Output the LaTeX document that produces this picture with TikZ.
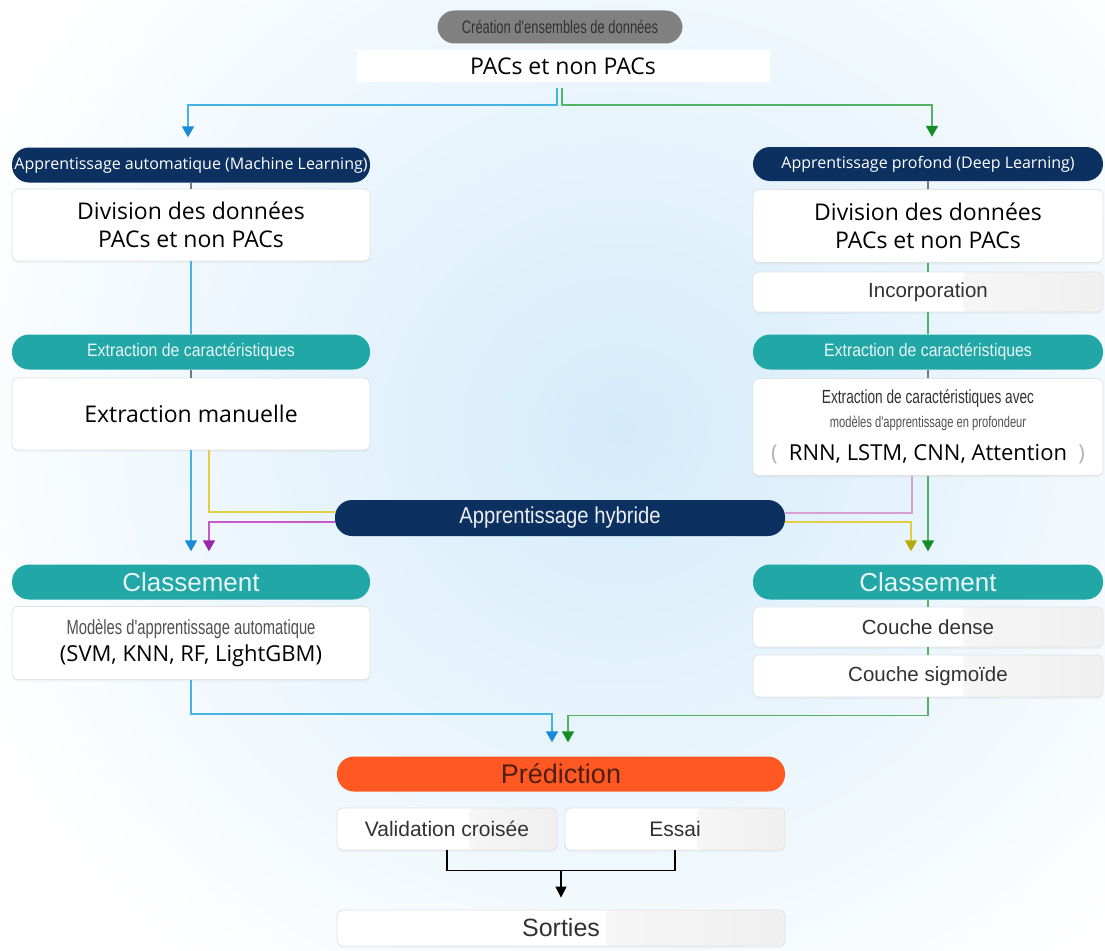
\documentclass[tikz,border=0pt]{standalone}
\usepackage{fontspec}
\usetikzlibrary{arrows.meta,calc,shadows}
\newfontfamily\os{Open Sans}
\newfontfamily\ar{Liberation Sans}
\newfontfamily\arn[FakeStretch=0.8]{Liberation Sans}
\newfontfamily\arm[FakeStretch=0.88]{Liberation Sans}
\newfontfamily\arx[FakeStretch=0.72]{Liberation Sans}
\definecolor{navy}{RGB}{12,48,96}
\definecolor{teal2}{RGB}{32,167,166}
\definecolor{orng}{RGB}{255,88,34}
\definecolor{grayp}{RGB}{128,128,128}
\definecolor{boxline}{RGB}{226,226,226}
\definecolor{glow}{RGB}{212,235,250}
\definecolor{lblue}{RGB}{70,180,225}
\definecolor{dblue}{RGB}{25,140,215}
\definecolor{lgreen}{RGB}{80,180,100}
\definecolor{dgreen}{RGB}{20,140,40}
\definecolor{yel}{RGB}{225,205,70}
\definecolor{olive2}{RGB}{180,170,10}
\definecolor{mag}{RGB}{200,90,200}
\definecolor{purp}{RGB}{150,40,170}
\definecolor{pinkl}{RGB}{215,160,210}
\definecolor{tickg}{RGB}{120,120,120}
\definecolor{txt}{RGB}{50,50,50}
\begin{document}
\begin{tikzpicture}[x=1pt,y=-1pt,
  pill/.style={rectangle, rounded corners=17pt, inner sep=0pt, align=center},
  navypill/.style={pill, fill=navy, text=white, font=\os\fontsize{16}{19}\selectfont},
  tealpill/.style={pill, fill=teal2, text=white!90!teal2},
  box/.style={rectangle, rounded corners=6pt, draw=boxline, line width=0.8pt, fill=white,
    inner sep=0pt, align=center, text=txt,
    drop shadow={opacity=0.07, shadow xshift=0pt, shadow yshift=-2pt}},
  grad/.style={path picture={\shade[left color=white, right color=gray!12]
    ($(path picture bounding box.north west)!0.6!(path picture bounding box.north east)$)
    rectangle (path picture bounding box.south east);}},
  big/.style={font=\os\fontsize{23}{28}\selectfont, text=black},
  arial/.style={font=\ar\fontsize{20.5}{24}\selectfont},
  tickline/.style={draw=tickg, line width=1.2pt},
  conB/.style={draw=lblue, line width=1.6pt},
  conG/.style={draw=lgreen, line width=1.6pt},
  conY/.style={draw=yel, line width=1.6pt},
  conM/.style={draw=mag, line width=1.6pt},
  conP/.style={draw=pinkl, line width=1.6pt},
  tipB/.style={-{Triangle[width=12pt,length=11pt,color=dblue]}},
  tipG/.style={-{Triangle[width=12pt,length=11pt,color=dgreen]}},
  tipY/.style={-{Triangle[width=12pt,length=11pt,color=olive2]}},
  tipM/.style={-{Triangle[width=12pt,length=11pt,color=purp]}},
  tipK/.style={-{Triangle[width=11pt,length=11pt,color=black]}}
]
\useasboundingbox (0,0) rectangle (1105,950);
\begin{scope}
  \clip (0,0) rectangle (1105,950);
  \fill[white] (0,0) rectangle (1105,950);
  \shade[inner color=glow, outer color=white] (620,430) ellipse (700 and 680);
\end{scope}

% top
\node[pill, fill=grayp, minimum width=245pt, minimum height=33pt, text=txt,
  font=\arx\fontsize{18}{21}\selectfont] (top) at (560,27) {Création d'ensembles de données};
\node[rectangle, fill=white, minimum width=413pt, minimum height=32pt, inner sep=0pt, big] (pac) at (563,66) {PACs et non PACs};

% left column
\node[navypill, minimum width=358pt, minimum height=35pt] (mlpill) at (191,165) {Apprentissage automatique (Machine Learning)};
\node[box, big, minimum width=358pt, minimum height=72pt] (ldiv) at (191,225) {Division des données\\PACs et non PACs};
\node[tealpill, minimum width=358pt, minimum height=35pt, font=\arm\fontsize{18}{21}\selectfont] (lext) at (191,352) {Extraction de caractéristiques};
\node[box, big, minimum width=358pt, minimum height=72pt] (lman) at (191,414) {Extraction manuelle};
\node[tealpill, minimum width=358pt, minimum height=35pt, font=\ar\fontsize{26}{30}\selectfont] (lcls) at (191,582) {Classement};
\node[box, minimum width=358pt, minimum height=73pt, font=\fontsize{10}{27}\selectfont] (lmod) at (191,643)
  {{\arx\fontsize{20.5}{24}\selectfont\color{txt!85!white}Modèles d'apprentissage automatique}\\
   {\os\fontsize{22}{26}\selectfont\color{black}(SVM, KNN, RF, LightGBM)}};

% right column
\node[navypill, minimum width=350pt, minimum height=34pt] (dlpill) at (928,164) {Apprentissage profond (Deep Learning)};
\node[box, big, minimum width=350pt, minimum height=73pt] (rdiv) at (928,226) {Division des données\\PACs et non PACs};
\node[box, grad, arial, minimum width=350pt, minimum height=40pt] (rinc) at (928,292) {Incorporation};
\node[tealpill, minimum width=350pt, minimum height=35pt, font=\arm\fontsize{18}{21}\selectfont] (rext) at (928,352) {Extraction de caractéristiques};
\node[box, minimum width=350pt, minimum height=97pt, font=\fontsize{10}{24}\selectfont] (rfe) at (928,427)
  {{\arx\fontsize{19}{22}\selectfont\color{txt}Extraction de caractéristiques avec}\\
   {\arx\fontsize{15.5}{18}\selectfont\color{txt!85!white}modèles d'apprentissage en profondeur}\\[9pt]
   {\os\fontsize{22}{26}\selectfont{\color{gray!60}(}\ \ \color{black}RNN, LSTM, CNN, Attention\ \ {\color{gray!60})}}};
\node[tealpill, minimum width=350pt, minimum height=35pt, font=\ar\fontsize{26}{30}\selectfont] (rcls) at (928,582) {Classement};
\node[box, grad, arial, minimum width=350pt, minimum height=40pt] (rdense) at (928,627) {Couche dense};
\node[box, grad, arial, minimum width=350pt, minimum height=42pt] (rsig) at (928,676) {Couche sigmoïde};

% hybrid
\node[pill, fill=navy, text=white!92!navy, minimum width=450pt, minimum height=36pt,
  font=\arm\fontsize{23}{26}\selectfont] (hyb) at (560,518) {Apprentissage hybride};

% bottom
\node[pill, fill=orng, text={rgb,255:red,80;green,30;blue,15}, minimum width=448pt, minimum height=35pt,
  font=\ar\fontsize{27}{30}\selectfont] (pred) at (561,774) {Prédiction};
\node[box, grad, font=\ar\fontsize{21}{24}\selectfont, minimum width=220pt, minimum height=42pt] (val) at (447,829) {Validation croisée};
\node[box, grad, font=\ar\fontsize{21}{24}\selectfont, minimum width=220pt, minimum height=42pt] (essai) at (675,829) {Essai};
\node[box, grad, font=\ar\fontsize{25}{28}\selectfont, minimum width=448pt, minimum height=36pt] (sort) at (561,928) {Sorties};

% split from top
\draw[conB, tipB] ([xshift=-6pt,yshift=-6pt]pac.south) -- ++(0,17) -| ([xshift=-3pt,yshift=10pt]mlpill.north);
\draw[conG, tipG] ([xshift=-1pt,yshift=-6pt]pac.south) -- ++(0,17) -| ([xshift=4pt,yshift=10pt]dlpill.north);

% left column connectors
\draw[tickline] (mlpill.south) -- (ldiv.north);
\draw[conB] (ldiv.south) -- (lext.north);
\draw[tickline] (lext.south) -- (lman.north);
\draw[conB, tipB] (lman.south) -- ([yshift=13pt]lcls.north);
\draw[conY] ([xshift=18pt]lman.south) |- ([yshift=6pt]hyb.west);
\draw[conM, tipM] ([yshift=-4pt]hyb.west) -| ([xshift=18pt,yshift=13pt]lcls.north);

% right column connectors
\draw[tickline] (dlpill.south) -- (rdiv.north);
\draw[conG] (rdiv.south) -- (rinc.north);
\draw[conG] (rinc.south) -- (rext.north);
\draw[tickline] (rext.south) -- (rfe.north);
\draw[conP] ([xshift=-16pt]rfe.south) |- ([yshift=5pt]hyb.east);
\draw[conY, tipY] ([yshift=-4pt]hyb.east) -| ([xshift=-17pt,yshift=13pt]rcls.north);
\draw[conG, tipG] (rfe.south) -- ([yshift=13pt]rcls.north);
\draw[conG] (rcls.south) -- (rdense.north);
\draw[conG] (rdense.south) -- (rsig.north);

% to prediction
\draw[conB, tipB] (lmod.south) -- ++(0,34) -| ([xshift=-9pt,yshift=14pt]pred.north);
\draw[conG, tipG] (rsig.south) -- ++(0,18) -| ([xshift=7pt,yshift=14pt]pred.north);

% bracket to outputs
\coordinate (mid) at ($(val.south)!0.5!(essai.south)+(0,20)$);
\draw[black, line width=1.2pt] (val.south) -- ++(0,20) -| (essai.south);
\draw[black, line width=1.2pt, tipK] (mid) -- ([yshift=12pt]sort.north);
\end{tikzpicture}
\end{document}
